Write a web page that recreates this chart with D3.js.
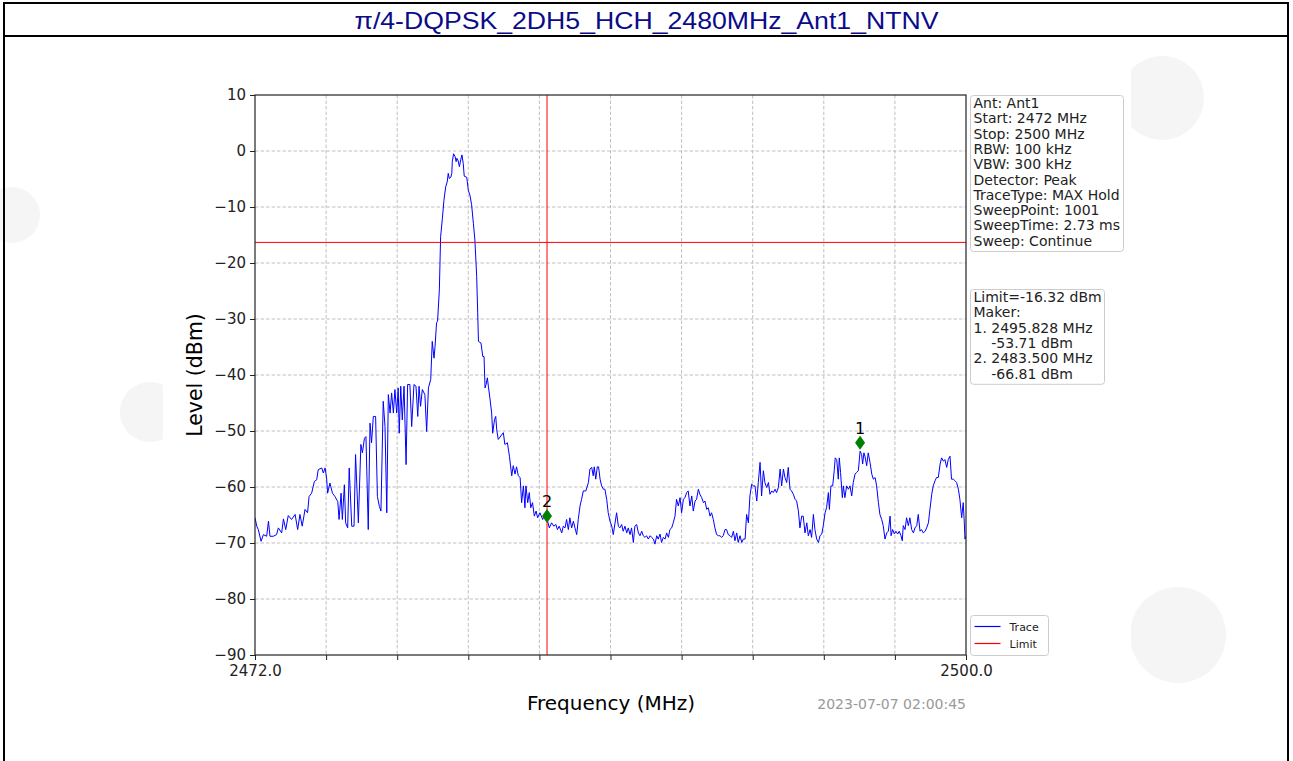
<!DOCTYPE html>
<html>
<head>
<meta charset="utf-8">
<script src="https://cdn.jsdelivr.net/npm/d3@7"></script>
<style>
  body { margin: 0; background: #fff; }
  svg { display: block; }
  text { font-family: "DejaVu Sans", sans-serif; }
</style>
</head>
<body>
<div id="chart"></div>
<script>
// ---------------- data ----------------
const titleText = "π/4-DQPSK_2DH5_HCH_2480MHz_Ant1_NTNV";

const freqMHz = [
  2472.00, 2472.07, 2472.13, 2472.24, 2472.33, 2472.46, 2472.53, 2472.59, 2472.72, 2472.85,
  2472.92, 2473.05, 2473.12, 2473.21, 2473.31, 2473.44, 2473.58, 2473.68, 2473.77, 2473.86,
  2473.97, 2474.07, 2474.13, 2474.23, 2474.34, 2474.43, 2474.49, 2474.63, 2474.69, 2474.76,
  2474.82, 2474.86, 2474.95, 2475.05, 2475.15, 2475.26, 2475.31, 2475.39, 2475.44, 2475.52,
  2475.57, 2475.65, 2475.71, 2475.81, 2475.90, 2475.96, 2476.07, 2476.17, 2476.23, 2476.31,
  2476.37, 2476.46, 2476.53, 2476.59, 2476.66, 2476.75, 2476.82, 2476.90, 2476.96, 2477.05,
  2477.12, 2477.19, 2477.25, 2477.32, 2477.38, 2477.45, 2477.51, 2477.58, 2477.64, 2477.68,
  2477.74, 2477.80, 2477.87, 2477.95, 2478.01, 2478.10, 2478.17, 2478.26, 2478.34, 2478.41,
  2478.46, 2478.52, 2478.59, 2478.69, 2478.76, 2478.83, 2478.92, 2478.98, 2479.05, 2479.09,
  2479.15, 2479.19, 2479.26, 2479.31, 2479.38, 2479.44, 2479.51, 2479.57, 2479.61, 2479.65,
  2479.71, 2479.75, 2479.77, 2479.82, 2479.88, 2479.92, 2479.95, 2479.99, 2480.05, 2480.10,
  2480.15, 2480.20, 2480.24, 2480.34, 2480.40, 2480.47, 2480.53, 2480.60, 2480.66, 2480.73,
  2480.77, 2480.80, 2480.90, 2480.97, 2481.02, 2481.06, 2481.10, 2481.15, 2481.19, 2481.25,
  2481.32, 2481.36, 2481.43, 2481.48, 2481.52, 2481.58, 2481.78, 2481.84, 2481.94, 2482.02,
  2482.11, 2482.17, 2482.24, 2482.30, 2482.37, 2482.44, 2482.50, 2482.57, 2482.63, 2482.67,
  2482.74, 2482.80, 2482.86, 2482.93, 2483.00, 2483.07, 2483.13, 2483.22, 2483.33, 2483.39,
  2483.49, 2483.59, 2483.68, 2483.77, 2483.85, 2483.91, 2483.98, 2484.08, 2484.14, 2484.21,
  2484.27, 2484.34, 2484.40, 2484.47, 2484.54, 2484.60, 2484.67, 2484.73, 2484.80, 2484.86,
  2484.93, 2485.03, 2485.13, 2485.19, 2485.26, 2485.32, 2485.36, 2485.42, 2485.48, 2485.53,
  2485.59, 2485.65, 2485.72, 2485.78, 2485.85, 2485.91, 2485.98, 2486.05, 2486.11, 2486.18,
  2486.24, 2486.31, 2486.37, 2486.44, 2486.50, 2486.57, 2486.64, 2486.70, 2486.77, 2486.83,
  2486.90, 2486.96, 2487.03, 2487.10, 2487.16, 2487.23, 2487.29, 2487.36, 2487.42, 2487.49,
  2487.56, 2487.62, 2487.69, 2487.75, 2487.82, 2487.88, 2487.95, 2488.01, 2488.08, 2488.15,
  2488.21, 2488.28, 2488.34, 2488.41, 2488.47, 2488.54, 2488.60, 2488.67, 2488.74, 2488.80,
  2488.87, 2488.93, 2489.00, 2489.06, 2489.13, 2489.20, 2489.26, 2489.33, 2489.39, 2489.46,
  2489.52, 2489.59, 2489.66, 2489.72, 2489.79, 2489.85, 2489.92, 2489.98, 2490.05, 2490.11,
  2490.18, 2490.25, 2490.31, 2490.38, 2490.44, 2490.51, 2490.57, 2490.64, 2490.71, 2490.77,
  2490.84, 2490.90, 2490.97, 2491.03, 2491.10, 2491.17, 2491.23, 2491.30, 2491.36, 2491.43,
  2491.49, 2491.56, 2491.63, 2491.69, 2491.76, 2491.82, 2491.89, 2491.95, 2492.02, 2492.08,
  2492.15, 2492.22, 2492.28, 2492.35, 2492.41, 2492.48, 2492.54, 2492.61, 2492.68, 2492.74,
  2492.81, 2492.87, 2492.94, 2493.00, 2493.07, 2493.13, 2493.20, 2493.27, 2493.33, 2493.40,
  2493.46, 2493.53, 2493.59, 2493.66, 2493.73, 2493.79, 2493.86, 2493.92, 2493.99, 2494.05,
  2494.12, 2494.19, 2494.25, 2494.32, 2494.38, 2494.45, 2494.51, 2494.58, 2494.62, 2494.68,
  2494.75, 2494.81, 2494.85, 2494.91, 2494.97, 2495.01, 2495.06, 2495.13, 2495.17, 2495.23,
  2495.30, 2495.37, 2495.43, 2495.50, 2495.56, 2495.63, 2495.69, 2495.76, 2495.83, 2495.89,
  2495.93, 2495.98, 2496.02, 2496.09, 2496.15, 2496.22, 2496.29, 2496.35, 2496.42, 2496.48,
  2496.55, 2496.61, 2496.68, 2496.74, 2496.81, 2496.88, 2496.94, 2497.01, 2497.05, 2497.11,
  2497.18, 2497.24, 2497.31, 2497.37, 2497.44, 2497.49, 2497.53, 2497.60, 2497.66, 2497.73,
  2497.79, 2497.86, 2497.93, 2497.99, 2498.06, 2498.12, 2498.19, 2498.25, 2498.32, 2498.39,
  2498.45, 2498.52, 2498.58, 2498.65, 2498.71, 2498.78, 2498.84, 2498.91, 2498.98, 2499.04,
  2499.11, 2499.17, 2499.24, 2499.30, 2499.37, 2499.43, 2499.50, 2499.57, 2499.63, 2499.70,
  2499.76, 2499.83, 2499.89, 2499.93, 2499.96, 2500.00
];

const levelDbm = [
  -65.5, -67.0, -67.6, -69.7, -68.5, -68.8, -66.1, -68.8, -68.8, -68.5,
  -67.3, -68.2, -65.7, -67.6, -65.1, -65.8, -64.9, -67.6, -64.9, -67.0,
  -64.0, -64.6, -61.7, -61.1, -59.0, -58.7, -56.9, -56.6, -57.5, -56.6,
  -58.4, -61.1, -59.3, -61.1, -61.7, -62.6, -65.8, -61.1, -65.8, -59.6,
  -66.4, -67.3, -56.6, -67.0, -67.0, -54.2, -66.4, -52.4, -53.9, -51.3,
  -51.0, -67.6, -48.6, -52.1, -47.4, -47.4, -61.7, -63.5, -64.3, -44.7,
  -49.2, -64.6, -43.5, -46.8, -43.2, -46.8, -42.6, -46.8, -42.3, -50.4,
  -42.0, -48.0, -42.0, -56.0, -41.7, -41.7, -49.2, -41.7, -42.0, -47.4,
  -42.0, -45.6, -42.6, -43.5, -50.1, -42.3, -40.8, -34.0, -37.0, -34.9,
  -30.7, -30.4, -24.8, -15.3, -12.0, -8.8, -6.4, -5.5, -4.0, -4.9,
  -4.7, -4.0, -1.9, -0.5, -1.0, -1.9, -1.3, -1.6, -2.8, -1.6,
  -0.7, -2.2, -4.5, -4.7, -7.0, -8.0, -9.6, -12.9, -15.9, -22.4,
  -28.9, -34.0, -34.3, -36.7, -36.7, -42.3, -41.7, -40.5, -42.0, -44.1,
  -46.8, -50.4, -48.0, -47.4, -49.8, -51.5, -50.3, -52.4, -52.1, -54.5,
  -58.0, -56.2, -57.7, -56.4, -58.0, -58.3, -62.8, -59.8, -63.7, -59.8,
  -62.8, -61.0, -63.7, -62.8, -65.2, -64.3, -65.5, -64.6, -65.8, -65.1,
  -65.5, -67.3, -66.4, -67.0, -66.7, -67.6, -67.0, -68.2, -67.0, -67.3,
  -65.8, -67.6, -65.5, -67.3, -66.1, -67.3, -68.5, -65.8, -63.4, -62.2,
  -60.7, -60.7, -59.2, -56.8, -56.5, -58.0, -56.4, -58.6, -56.4, -56.4,
  -58.6, -59.8, -60.4, -60.4, -62.2, -64.6, -66.1, -67.0, -68.5, -66.4,
  -64.6, -67.0, -67.3, -66.7, -67.9, -67.0, -68.2, -67.3, -68.5, -67.3,
  -69.9, -67.0, -66.7, -68.2, -68.7, -67.9, -68.7, -69.0, -68.7, -69.3,
  -68.7, -69.0, -69.3, -70.2, -68.7, -69.3, -68.4, -69.9, -69.0, -69.3,
  -68.2, -69.0, -67.6, -67.3, -66.4, -65.2, -62.2, -63.4, -61.9, -64.6,
  -62.2, -61.9, -61.0, -60.7, -63.4, -61.6, -64.3, -62.5, -62.2, -60.4,
  -61.3, -61.9, -62.8, -62.5, -64.0, -63.7, -65.2, -64.6, -65.8, -67.3,
  -68.5, -68.7, -68.7, -69.0, -68.7, -67.6, -67.6, -68.5, -68.7, -69.0,
  -67.9, -69.6, -68.2, -69.9, -68.7, -69.9, -69.3, -69.3, -64.9, -66.4,
  -61.6, -59.5, -59.8, -59.8, -62.5, -59.2, -55.6, -61.6, -57.1, -59.2,
  -60.1, -59.2, -61.3, -60.7, -61.0, -60.4, -61.0, -60.1, -56.8, -59.8,
  -56.8, -58.3, -59.2, -56.5, -60.4, -60.7, -61.3, -62.2, -62.5, -64.3,
  -67.3, -65.2, -65.2, -68.2, -66.4, -68.7, -67.6, -69.0, -64.9, -67.6,
  -69.3, -69.9, -68.7, -68.4, -66.9, -64.6, -63.7, -61.0, -64.0, -59.8,
  -59.8, -57.1, -54.8, -55.1, -58.6, -54.8, -57.4, -61.9, -59.8, -61.9,
  -59.8, -60.4, -59.8, -61.6, -59.2, -57.7, -57.4, -57.1, -53.6, -54.2,
  -55.9, -53.9, -54.5, -56.2, -53.9, -55.6, -57.7, -58.6, -58.3, -59.8,
  -62.8, -64.9, -65.8, -66.9, -69.3, -68.2, -67.9, -65.2, -68.7, -67.6,
  -68.4, -67.9, -68.4, -67.9, -68.7, -69.6, -66.9, -67.6, -65.5, -66.9,
  -65.5, -67.6, -68.2, -67.3, -66.9, -64.9, -67.9, -67.6, -68.2, -67.9,
  -67.3, -66.4, -64.0, -61.3, -59.8, -58.9, -58.3, -58.3, -55.9, -54.8,
  -55.4, -55.1, -56.5, -55.1, -54.5, -58.6, -58.6, -58.9, -59.2, -60.4,
  -62.2, -65.5, -62.8, -66.1, -69.3, -68.7
];

const limitDbm = -16.32;
const limitFreq = 2483.5;

// markers: where the diamonds sit, and what the readout says
const markerIds = ["1", "2"];
const markerFreq = [2495.828, 2483.5];
const markerPlotLevel = [-52.1, -65.2];
const markerReadLevel = [-53.71, -66.81];

const yTicks = [10, 0, -10, -20, -30, -40, -50, -60, -70, -80, -90];
const xStart = 2472, xStop = 2500;

const infoLines = [
  "Ant: Ant1", "Start: 2472 MHz", "Stop: 2500 MHz", "RBW: 100 kHz", "VBW: 300 kHz",
  "Detector: Peak", "TraceType: MAX Hold", "SweepPoint: 1001", "SweepTime: 2.73 ms",
  "Sweep: Continue"
];
const timeStamp = "2023-07-07 02:00:45";

// ---------------- layout ----------------
const W = 1293, H = 761;
const plot = {left: 255, right: 966, top: 95, bottom: 655};

const svg = d3.select("#chart").append("svg")
  .attr("width", W).attr("height", H);

// faint watermark logos behind the figure
const marks = [[12, 215, 28], [150, 412, 30], [1162, 98, 42], [1178, 635, 48]];
svg.selectAll("circle.wm").data(marks).enter().append("circle")
  .attr("class", "wm")
  .attr("cx", d => d[0]).attr("cy", d => d[1]).attr("r", d => d[2])
  .attr("fill", "#f5f5f5");

// figure area is plain white
svg.append("rect").attr("x", 163).attr("y", 38).attr("width", 968).attr("height", 723)
  .attr("fill", "#fff");

// outer frame + title
svg.append("rect").attr("x", 4).attr("y", 3).attr("width", 1284).attr("height", 770)
  .attr("fill", "none").attr("stroke", "#000").attr("stroke-width", 2);
svg.append("line").attr("x1", 4).attr("x2", 1288).attr("y1", 36).attr("y2", 36)
  .attr("stroke", "#000").attr("stroke-width", 2);
svg.append("text")
  .attr("x", W / 2).attr("y", 29)
  .attr("text-anchor", "middle")
  .style("font-family", "'Liberation Sans', Arial, sans-serif")
  .style("font-size", "24px")
  .attr("fill", "#0b0b8a")
  .attr("textLength", 584)
  .attr("lengthAdjust", "spacingAndGlyphs")
  .text(titleText);

// ---------------- scales ----------------
const x = d3.scaleLinear().domain([xStart, xStop]).range([plot.left, plot.right]);
const y = d3.scaleLinear().domain([-90, 10]).range([plot.bottom, plot.top]);
const xTicks = d3.range(11).map(i => xStart + i * (xStop - xStart) / 10);

const g = svg.append("g");

// grid
g.selectAll("line.gx").data(xTicks.slice(1, -1)).enter().append("line")
  .attr("x1", d => x(d)).attr("x2", d => x(d))
  .attr("y1", plot.top).attr("y2", plot.bottom)
  .attr("stroke", "#b0b0b0").attr("stroke-width", 0.8).attr("stroke-dasharray", "3.5,2");
g.selectAll("line.gy").data(yTicks.slice(1, -1)).enter().append("line")
  .attr("x1", plot.left).attr("x2", plot.right)
  .attr("y1", d => y(d)).attr("y2", d => y(d))
  .attr("stroke", "#b0b0b0").attr("stroke-width", 0.8).attr("stroke-dasharray", "3.5,2");

// trace
svg.append("clipPath").attr("id", "clip").append("rect")
  .attr("x", plot.left).attr("y", plot.top)
  .attr("width", plot.right - plot.left).attr("height", plot.bottom - plot.top);

const trace = freqMHz.map((f, i) => [f, levelDbm[i]]);
g.append("path")
  .datum(trace)
  .attr("clip-path", "url(#clip)")
  .attr("fill", "none")
  .attr("stroke", "#0000ff")
  .attr("stroke-width", 1)
  .attr("d", d3.line().x(d => x(d[0])).y(d => y(d[1])));

// limit lines
g.append("line")
  .attr("x1", plot.left).attr("x2", plot.right)
  .attr("y1", y(limitDbm)).attr("y2", y(limitDbm))
  .attr("stroke", "#ff0000").attr("stroke-width", 1);
g.append("line")
  .attr("x1", x(limitFreq)).attr("x2", x(limitFreq))
  .attr("y1", plot.top).attr("y2", plot.bottom)
  .attr("stroke", "#ff0000").attr("stroke-width", 1);

// markers
const mk = g.selectAll("g.mk").data(markerIds).enter().append("g")
  .attr("transform", (d, i) => `translate(${x(markerFreq[i])},${y(markerPlotLevel[i])})`);
mk.append("path").attr("d", "M0,-7L5,0L0,7L-5,0Z").attr("fill", "#008000");
mk.append("text").attr("y", -9).attr("text-anchor", "middle")
  .style("font-size", "16px").attr("fill", "#000").text(d => d);

// axes
const yAxis = g.append("g")
  .attr("transform", `translate(${plot.left},0)`)
  .call(d3.axisLeft(y).tickValues(yTicks).tickSize(5).tickPadding(4));
const xAxis = g.append("g")
  .attr("transform", `translate(0,${plot.bottom})`)
  .call(d3.axisBottom(x).tickValues(xTicks).tickSize(5).tickPadding(5)
    .tickFormat((d, i) => (i === 0 || i === xTicks.length - 1) ? d3.format(".1f")(d) : ""));
[yAxis, xAxis].forEach(a => {
  a.select(".domain").remove();
  a.selectAll(".tick line").attr("stroke", "#222").attr("stroke-width", 1);
  a.selectAll(".tick text").style("font-family", "'DejaVu Sans', sans-serif")
    .style("font-size", "15px").attr("fill", "#222");
});

// frame
g.append("rect")
  .attr("x", plot.left).attr("y", plot.top)
  .attr("width", plot.right - plot.left).attr("height", plot.bottom - plot.top)
  .attr("fill", "none").attr("stroke", "#222").attr("stroke-width", 1.2);

// axis titles
svg.append("text")
  .attr("transform", `translate(202,${(plot.top + plot.bottom) / 2}) rotate(-90)`)
  .attr("text-anchor", "middle")
  .style("font-size", "20.5px").attr("fill", "#000")
  .text("Level (dBm)");
svg.append("text")
  .attr("x", 611).attr("y", 710)
  .attr("text-anchor", "middle")
  .style("font-size", "20px").attr("fill", "#000")
  .text("Frequency (MHz)");
svg.append("text")
  .attr("x", 966).attr("y", 709)
  .attr("text-anchor", "end")
  .style("font-size", "14px").attr("fill", "#999")
  .text(timeStamp);

// ---------------- side boxes ----------------
function textBox(x0, y0, w, lines) {
  const lh = 15.3;
  svg.append("rect")
    .attr("x", x0).attr("y", y0).attr("width", w).attr("height", lines.length * lh + 3)
    .attr("rx", 3).attr("fill", "#fff").attr("stroke", "#cccccc");
  svg.append("g").selectAll("text").data(lines).enter().append("text")
    .attr("x", x0 + 3).attr("y", (d, i) => y0 + 12.5 + i * lh)
    .style("font-size", "14px").style("white-space", "pre")
    .attr("fill", "#222")
    .text(d => d);
}
textBox(970.5, 95.5, 153, infoLines);

const limitLines = ["Limit=" + limitDbm.toFixed(2) + " dBm", "Maker:"];
markerIds.forEach((id, i) => {
  limitLines.push(id + ". " + markerFreq[i].toFixed(3) + " MHz");
  limitLines.push("    " + markerReadLevel[i].toFixed(2) + " dBm");
});
textBox(970.5, 289.5, 134, limitLines);

// legend
const lg = svg.append("g").attr("transform", "translate(970.5,615.5)");
lg.append("rect").attr("width", 78).attr("height", 40).attr("rx", 3)
  .attr("fill", "#fff").attr("stroke", "#cccccc");
const legendItems = [["Trace", "#0000ff"], ["Limit", "#ff0000"]];
legendItems.forEach((it, i) => {
  lg.append("line").attr("x1", 4).attr("x2", 30).attr("y1", 11 + i * 17).attr("y2", 11 + i * 17)
    .attr("stroke", it[1]).attr("stroke-width", 1.2);
  lg.append("text").attr("x", 39).attr("y", 15 + i * 17)
    .style("font-size", "11px").attr("fill", "#222").text(it[0]);
});
</script>
</body>
</html>
